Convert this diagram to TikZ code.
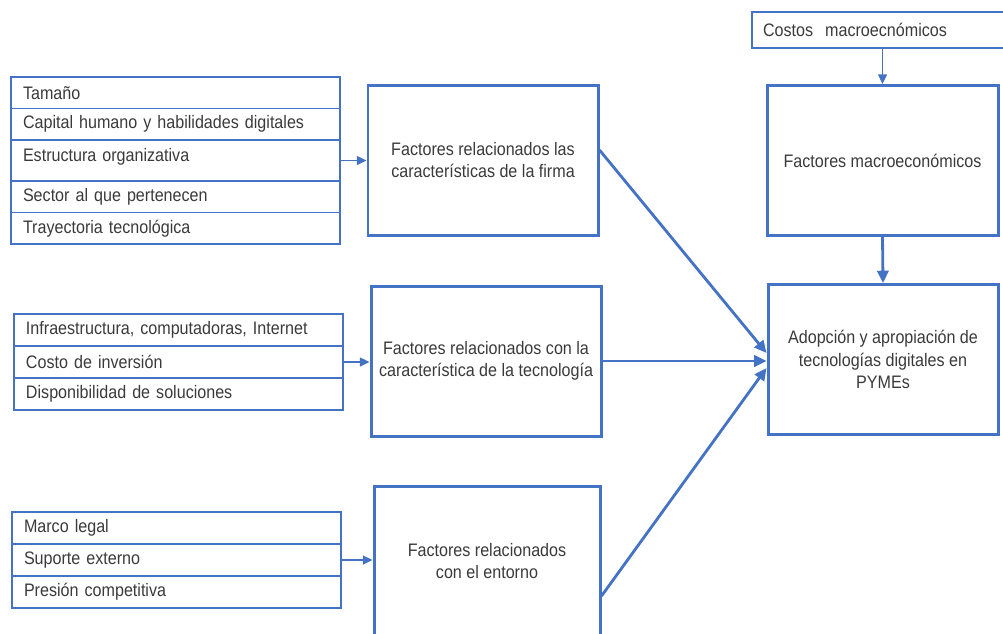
\documentclass[tikz,border=0pt]{standalone}
\usepackage{fontspec}
\setmainfont{Liberation Sans}[FakeStretch=0.89]
\usetikzlibrary{positioning,arrows.meta}

\definecolor{boxblue}{HTML}{4472C4}
\definecolor{txtgray}{HTML}{3A3A3A}

\newcommand*{\px}{0.02cm}

\begin{document}
\begin{tikzpicture}
[
	x=\px, y=-\px,
	every node/.style={font=\fontsize{10.3}{12.8}\selectfont, text=txtgray},
	item/.style={draw=boxblue, line width=0.8pt, outer sep=0pt, anchor=north west, minimum height=32*\px,
		text width=305*\px, inner xsep=12*\px, align=left},
	factor/.style={draw=boxblue, line width=1.7pt, minimum width=230*\px, minimum height=150*\px, align=center},
	feed/.style={draw=boxblue, line width=1.1pt, -{Triangle[length=5.5pt,width=5pt]}},
	link/.style={draw=boxblue, line width=1.6pt, -{Triangle[length=7pt,width=6.5pt]}}
]

	\useasboundingbox (0,0) rectangle (1003,633);
	\clip (0,0) rectangle (1003,633);

	% firm characteristics
	\node[item, minimum height=31.5*\px] at (11,77) (tam) {Tamaño};
	\node[item, minimum height=31.5*\px, below=0pt of tam] (cap) {Capital humano y habilidades digitales};
	\node[item, minimum height=41*\px, text depth=6.2pt, below=0pt of cap] (estr) {Estructura organizativa};
	\node[item, minimum height=31.5*\px, below=0pt of estr] (sector) {Sector al que pertenecen};
	\node[item, minimum height=31.5*\px, below=0pt of sector] (tray) {Trayectoria tecnológica};

	% technology
	\node[item] at (14,314) (infra) {Infraestructura, computadoras, Internet};
	\node[item, below=0pt of infra] (costo) {Costo de inversión};
	\node[item, below=0pt of costo] (disp) {Disponibilidad de soluciones};

	% environment
	\node[item] at (12,512) (marco) {Marco legal};
	\node[item, below=0pt of marco] (suporte) {Suporte externo};
	\node[item, below=0pt of suporte] (presion) {Presión competitiva};

	% macro costs
	\node[item, text width=232*\px, inner xsep=11*\px, minimum height=36*\px] at (752,12) (costos) {Costos\ \ macroecnómicos};

	% factor boxes
	\node[factor] at (483,160) (firma) {Factores relacionados las\\características de la firma};
	\node[factor] at (486,361) (tecno) {Factores relacionados con la\\característica de la tecnología};
	\node[factor, minimum width=226*\px] at (487,561) (entorno) {Factores relacionados\\con el entorno};
	\node[factor, minimum width=231*\px] at (882.5,160.5) (macro) {Factores macroeconómicos};
	\node[factor] at (883,359.5) (adop) {Adopción y apropiación de\\tecnologías digitales en\\PYMEs};

	% feeds
	\draw[feed] (estr.east) -- (estr.east -| firma.west);
	\draw[feed] (costo.east) -- (costo.east -| tecno.west);
	\draw[feed] (suporte.east) -- (suporte.east -| entorno.west);
	\draw[feed] (macro.north |- costos.south) -- (macro.north);

	% links
	\draw[link] (macro.south) -- (adop.north);
	\draw[link] ([yshift=10*\px]firma.east) -- ([yshift=6.5*\px]adop.west);
	\draw[link] (tecno.east) -- (tecno.east -| adop.west);
	\draw[link] ([yshift=-35*\px]entorno.east) -- ([yshift=-8.5*\px]adop.west);

\end{tikzpicture}
\end{document}
